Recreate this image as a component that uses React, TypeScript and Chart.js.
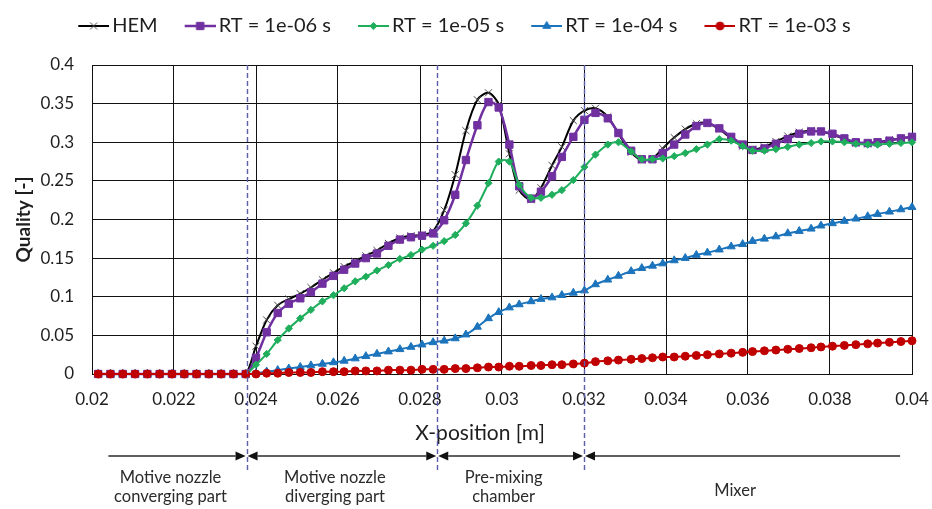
import React, { useEffect, useRef } from 'react';
import { Chart, registerables } from 'chart.js';

Chart.register(...registerables);

// Axial positions of the sampled cells [m]
const X_POSITION = [
  0.02015, 0.02045, 0.02075, 0.02105, 0.02135, 0.02165, 0.02195, 0.02225, 0.02255, 0.02285, 0.02315, 0.02345, 0.02375,
  0.024, 0.02426, 0.02453, 0.0248, 0.02508, 0.02534, 0.02562, 0.02589, 0.02615, 0.02642, 0.02668, 0.02695, 0.02723, 0.02751, 0.02778, 0.02805, 0.02832, 0.02859,
  0.02886, 0.02912, 0.0294, 0.02967, 0.02992, 0.03018, 0.03042, 0.03071, 0.03095, 0.03122, 0.03146, 0.03174, 0.03201,
  0.03228, 0.03258, 0.03284, 0.03315, 0.03341, 0.03367, 0.03392, 0.0342, 0.03447, 0.03474, 0.03501, 0.0353, 0.03559, 0.03587, 0.03611,
  0.0364, 0.03668, 0.03697, 0.03725, 0.03754, 0.03778, 0.03806, 0.03835, 0.03863, 0.03892, 0.03916, 0.03945, 0.03973, 0.04,
];

// Vapour quality for each model
const HEM = [
  0, 0, 0, 0, 0, 0, 0, 0, 0, 0, 0, 0, 0,
  0.036, 0.07, 0.089, 0.097, 0.104, 0.112, 0.122, 0.131, 0.139, 0.146, 0.153, 0.16, 0.169, 0.176, 0.179, 0.18, 0.185, 0.212,
  0.258, 0.315, 0.355, 0.364, 0.349, 0.285, 0.238, 0.226, 0.241, 0.27, 0.294, 0.328, 0.341,
  0.344, 0.333, 0.311, 0.287, 0.277, 0.279, 0.292, 0.306, 0.317, 0.324, 0.325, 0.317, 0.305, 0.295, 0.291,
  0.294, 0.301, 0.308, 0.313, 0.315, 0.314, 0.31, 0.304, 0.299, 0.298, 0.3, 0.303, 0.305, 0.307,
];

const RT_1E06 = [
  0, 0, 0, 0, 0, 0, 0, 0, 0, 0, 0, 0, 0,
  0.021, 0.054, 0.079, 0.091, 0.098, 0.106, 0.117, 0.127, 0.135, 0.143, 0.15, 0.156, 0.166, 0.174, 0.177, 0.179, 0.182, 0.199,
  0.232, 0.277, 0.322, 0.352, 0.345, 0.297, 0.243, 0.227, 0.236, 0.256, 0.281, 0.307, 0.329,
  0.338, 0.331, 0.312, 0.289, 0.278, 0.278, 0.286, 0.297, 0.31, 0.321, 0.325, 0.318, 0.307, 0.297, 0.29,
  0.292, 0.298, 0.304, 0.311, 0.314, 0.314, 0.311, 0.305, 0.3, 0.299, 0.3, 0.302, 0.305, 0.307,
];

const RT_1E05 = [
  0, 0, 0, 0, 0, 0, 0, 0, 0, 0, 0, 0, 0,
  0.012, 0.026, 0.044, 0.059, 0.072, 0.083, 0.094, 0.102, 0.111, 0.12, 0.126, 0.134, 0.141, 0.149, 0.154, 0.161, 0.166, 0.172,
  0.18, 0.195, 0.218, 0.247, 0.275, 0.275, 0.245, 0.228, 0.228, 0.232, 0.238, 0.251, 0.268,
  0.284, 0.297, 0.3, 0.288, 0.278, 0.278, 0.279, 0.282, 0.286, 0.291, 0.297, 0.304, 0.302, 0.295, 0.289,
  0.289, 0.291, 0.294, 0.297, 0.299, 0.301, 0.301, 0.3, 0.298, 0.297, 0.297, 0.298, 0.299, 0.3,
];

const RT_1E04 = [
  0, 0, 0, 0, 0, 0, 0, 0, 0, 0, 0, 0, 0,
  0.001, 0.003, 0.005, 0.007, 0.009, 0.011, 0.013, 0.015, 0.017, 0.02, 0.023, 0.026, 0.029, 0.032, 0.035, 0.038, 0.041, 0.043,
  0.046, 0.051, 0.061, 0.072, 0.08, 0.086, 0.09, 0.094, 0.097, 0.099, 0.102, 0.105, 0.108,
  0.116, 0.122, 0.127, 0.133, 0.137, 0.14, 0.143, 0.147, 0.15, 0.154, 0.157, 0.161, 0.165, 0.168, 0.172,
  0.175, 0.178, 0.182, 0.185, 0.188, 0.192, 0.195, 0.198, 0.201, 0.204, 0.207, 0.21, 0.213, 0.216,
];

const RT_1E03 = [
  0, 0, 0, 0, 0, 0, 0, 0, 0, 0, 0, 0, 0,
  0, 0.001, 0.001, 0.002, 0.002, 0.002, 0.003, 0.003, 0.003, 0.004, 0.004, 0.004, 0.005, 0.005, 0.005, 0.006, 0.006, 0.006,
  0.007, 0.007, 0.008, 0.009, 0.009, 0.01, 0.01, 0.011, 0.011, 0.012, 0.012, 0.013, 0.014,
  0.016, 0.017, 0.018, 0.019, 0.02, 0.021, 0.022, 0.022, 0.023, 0.024, 0.025, 0.026, 0.027, 0.028, 0.029,
  0.03, 0.031, 0.032, 0.033, 0.034, 0.035, 0.036, 0.037, 0.038, 0.039, 0.04, 0.041, 0.042, 0.043,
];

const SERIES_LABELS = ['HEM', 'RT = 1e-06 s', 'RT = 1e-05 s', 'RT = 1e-04 s', 'RT = 1e-03 s'];
const SERIES_VALUES = [HEM, RT_1E06, RT_1E05, RT_1E04, RT_1E03];

// Axis ranges
const X_MIN = 0.02;
const X_MAX = 0.04;
const X_STEP = 0.002;
const Y_MIN = 0;
const Y_MAX = 0.4;
const Y_STEP = 0.05;

// Ejector sections: outer arrow ends and the three internal boundaries [m]
const SECTION_EDGES = [0.0204, 0.02377, 0.02842, 0.032, 0.03971];
const SECTION_NAMES = [
  ['Motive nozzle', 'converging part'],
  ['Motive nozzle', 'diverging part'],
  ['Pre-mixing', 'chamber'],
  ['Mixer'],
];

const X_TITLE = 'X-position [m]';
const Y_TITLE = 'Quality [-]';

type SeriesStyle = {
  color: string;
  marker: string;
  markerColor: string;
  radius: number;
  width: number;
  order: number;
};

const SERIES_STYLES: SeriesStyle[] = [
  { color: '#000000', marker: 'crossRot', markerColor: '#4a4a4a', radius: 5, width: 2, order: 5 },
  { color: '#7030a0', marker: 'rect', markerColor: '#7030a0', radius: 5.2, width: 2.5, order: 4 },
  { color: '#1fae5c', marker: 'rectRot', markerColor: '#1fae5c', radius: 3.6, width: 2, order: 3 },
  { color: '#1c74bc', marker: 'triangle', markerColor: '#1c74bc', radius: 4.6, width: 2, order: 2 },
  { color: '#c00000', marker: 'circle', markerColor: '#c00000', radius: 4, width: 2, order: 1 },
];

const FONT = 'Lato, "Open Sans", sans-serif';
const TEXT_COLOR = '#1e1e1e';

function drawMarker(g: CanvasRenderingContext2D, s: SeriesStyle, x: number, y: number) {
  const r = s.radius;
  g.save();
  g.fillStyle = s.markerColor;
  g.strokeStyle = s.markerColor;
  g.lineWidth = 1;
  g.beginPath();
  if (s.marker === 'crossRot') {
    const d = r * Math.SQRT1_2;
    g.moveTo(x - d, y - d);
    g.lineTo(x + d, y + d);
    g.moveTo(x - d, y + d);
    g.lineTo(x + d, y - d);
    g.stroke();
  } else if (s.marker === 'rect') {
    const d = r * Math.SQRT1_2;
    g.rect(x - d, y - d, 2 * d, 2 * d);
    g.fill();
    g.stroke();
  } else if (s.marker === 'rectRot') {
    g.moveTo(x, y - r);
    g.lineTo(x + r, y);
    g.lineTo(x, y + r);
    g.lineTo(x - r, y);
    g.closePath();
    g.fill();
    g.stroke();
  } else if (s.marker === 'triangle') {
    for (let k = 0; k < 3; k++) {
      const a = -Math.PI / 2 + (k * 2 * Math.PI) / 3;
      const px = x + Math.cos(a) * r;
      const py = y + Math.sin(a) * r;
      if (k === 0) g.moveTo(px, py);
      else g.lineTo(px, py);
    }
    g.closePath();
    g.fill();
    g.stroke();
  } else {
    g.arc(x, y, r, 0, Math.PI * 2);
    g.fill();
    g.stroke();
  }
  g.restore();
}

// Legend key: a short line with the series marker in its middle.
// The icon is wider than the legend box so the key sits close to its text.
const LEGEND_BOX = 41;
function makeLegendIcon(s: SeriesStyle): HTMLCanvasElement {
  const c = document.createElement('canvas');
  c.width = LEGEND_BOX + 14;
  c.height = 16;
  const g = c.getContext('2d') as CanvasRenderingContext2D;
  const x0 = c.width - 31;
  const x1 = c.width;
  g.strokeStyle = s.color;
  g.lineWidth = s.width;
  g.beginPath();
  g.moveTo(x0, 8);
  g.lineTo(x1, 8);
  g.stroke();
  drawMarker(g, s, (x0 + x1) / 2, 8);
  return c;
}

// Extra room between the legend and the plot area
const legendGap = {
  id: 'legendGap',
  beforeInit(chart: any) {
    const legend = chart.legend;
    if (!legend) return;
    const fit = legend.fit;
    legend.fit = function () {
      fit.call(this);
      this.height += 19;
    };
  },
};

// Section boundaries, section arrows and names below the x axis
const sectionsPlugin = {
  id: 'sections',
  afterDraw(chart: any) {
    const { ctx, chartArea } = chart;
    const xs = chart.scales.x;
    const px = SECTION_EDGES.map((v) => xs.getPixelForValue(v));
    const arrowY = chartArea.bottom + 82;
    ctx.save();

    // axis title
    ctx.fillStyle = TEXT_COLOR;
    ctx.font = `21px ${FONT}`;
    ctx.textAlign = 'center';
    ctx.textBaseline = 'middle';
    ctx.fillText(X_TITLE, (chartArea.left + chartArea.right) / 2 - 22, chartArea.bottom + 59);

    // dashed boundaries
    ctx.strokeStyle = '#5b5ea8';
    ctx.lineWidth = 1.4;
    ctx.setLineDash([5, 3]);
    for (let i = 1; i < px.length - 1; i++) {
      const x = Math.round(px[i]) + 0.5;
      ctx.beginPath();
      ctx.moveTo(x, chartArea.top);
      ctx.lineTo(x, chartArea.bottom + 99);
      ctx.stroke();
    }
    ctx.setLineDash([]);

    // section arrows
    ctx.strokeStyle = '#2a2a2a';
    ctx.fillStyle = '#111111';
    ctx.lineWidth = 1.4;
    const head = 10;
    const half = 4.5;
    for (let i = 0; i < px.length - 1; i++) {
      const a = px[i];
      const b = px[i + 1];
      const startInner = i > 0;
      const endInner = i < px.length - 2;
      ctx.beginPath();
      ctx.moveTo(startInner ? a + 1 + head : a, arrowY);
      ctx.lineTo(endInner ? b - 1 - head : b, arrowY);
      ctx.stroke();
      if (startInner) {
        ctx.beginPath();
        ctx.moveTo(a + 1, arrowY);
        ctx.lineTo(a + 1 + head, arrowY - half);
        ctx.lineTo(a + 1 + head, arrowY + half);
        ctx.closePath();
        ctx.fill();
      }
      if (endInner) {
        ctx.beginPath();
        ctx.moveTo(b - 1, arrowY);
        ctx.lineTo(b - 1 - head, arrowY - half);
        ctx.lineTo(b - 1 - head, arrowY + half);
        ctx.closePath();
        ctx.fill();
      }
    }

    // section names
    ctx.fillStyle = '#2b2b2b';
    ctx.font = `16.5px ${FONT}`;
    ctx.textAlign = 'center';
    ctx.textBaseline = 'middle';
    for (let i = 0; i < SECTION_NAMES.length; i++) {
      const cx = (px[i] + px[i + 1]) / 2 - 7;
      const lines = SECTION_NAMES[i];
      if (lines.length === 1) {
        ctx.fillText(lines[0], cx, chartArea.bottom + 117);
      } else {
        lines.forEach((t, k) => ctx.fillText(t, cx, chartArea.bottom + 104 + k * 19));
      }
    }
    ctx.restore();
  },
};

export default function App() {
  const canvasRef = useRef<HTMLCanvasElement | null>(null);

  useEffect(() => {
    const canvas = canvasRef.current;
    if (!canvas) return;
    const icons = SERIES_STYLES.map(makeLegendIcon);

    const datasets = SERIES_LABELS.map((label, i) => {
      const s = SERIES_STYLES[i];
      return {
        label,
        data: X_POSITION.map((x, k) => ({ x, y: SERIES_VALUES[i][k] })),
        borderColor: s.color,
        backgroundColor: s.markerColor,
        borderWidth: s.width,
        pointStyle: s.marker,
        pointRadius: s.radius,
        pointHoverRadius: s.radius,
        pointBackgroundColor: s.markerColor,
        pointBorderColor: s.markerColor,
        pointBorderWidth: 1,
        tension: 0.3,
        order: s.order,
        clip: false as const,
      };
    });

    const chart = new Chart(canvas, {
      type: 'line',
      data: { datasets },
      plugins: [legendGap, sectionsPlugin],
      options: {
        responsive: false,
        animation: false,
        events: [],
        layout: { padding: { top: 6, right: 20, bottom: 0, left: 0 } },
        plugins: {
          tooltip: { enabled: false },
          legend: {
            position: 'top',
            labels: {
              usePointStyle: true,
              pointStyleWidth: LEGEND_BOX,
              padding: 10,
              color: TEXT_COLOR,
              font: { family: FONT, size: 20 },
              generateLabels(ch: any) {
                const items = Chart.defaults.plugins.legend.labels.generateLabels(ch);
                return items
                  .sort((a: any, b: any) => a.datasetIndex - b.datasetIndex)
                  .map((it: any) => ({ ...it, pointStyle: icons[it.datasetIndex] }));
              },
            },
          },
        },
        scales: {
          x: {
            type: 'linear',
            min: X_MIN,
            max: X_MAX,
            ticks: {
              stepSize: X_STEP,
              padding: 15,
              color: TEXT_COLOR,
              font: { family: FONT, size: 17 },
              callback: (v: any) => String(Number(Number(v).toFixed(3))),
            },
            grid: { color: '#111111', lineWidth: 1, drawTicks: false },
            border: { color: '#111111', width: 1 },
            afterFit: (scale: any) => {
              scale.height = 135;
              scale.paddingLeft = 0;
              scale.paddingRight = 20;
            },
          },
          y: {
            min: Y_MIN,
            max: Y_MAX,
            ticks: {
              stepSize: Y_STEP,
              padding: 18,
              color: TEXT_COLOR,
              font: { family: FONT, size: 17 },
              callback: (v: any) => String(Number(Number(v).toFixed(2))),
            },
            grid: { color: '#111111', lineWidth: 1, drawTicks: false },
            border: { color: '#111111', width: 1 },
            title: {
              display: true,
              text: Y_TITLE,
              color: TEXT_COLOR,
              font: { family: FONT, size: 19, weight: 'bold' },
              padding: { top: 12, bottom: 0 },
            },
            afterFit: (scale: any) => {
              scale.width = 92;
            },
          },
        },
      } as any,
    });

    return () => chart.destroy();
  }, []);

  return (
    <div style={{ position: 'absolute', left: 0, top: 0, width: 932, height: 509, background: '#ffffff' }}>
      <canvas ref={canvasRef} width={932} height={509} />
    </div>
  );
}
